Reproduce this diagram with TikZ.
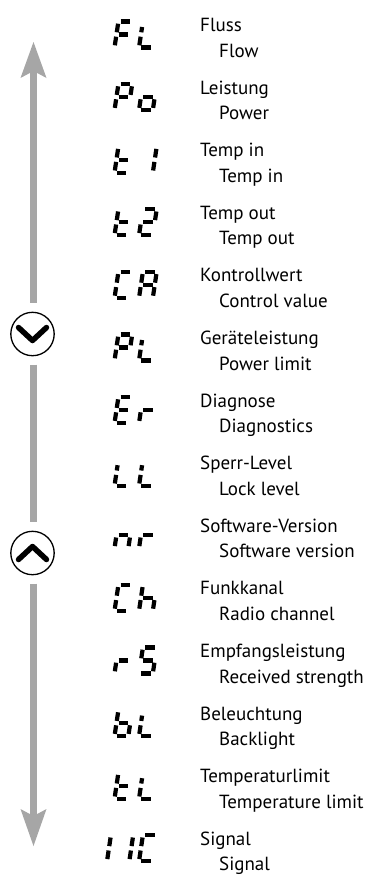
\documentclass[tikz,border=0pt]{standalone}
\usepackage{fontspec}
\setmainfont{PT Sans}
\definecolor{agray}{RGB}{166,166,166}
\tikzset{
  lbl/.style={anchor=base west, inner sep=0pt, font=\fontsize{19}{21}\selectfont},
  segline/.style={line width=4.2pt, line cap=butt, black},
  gline/.style={line width=7.5pt, agray},
  ahead/.style={fill=agray, draw=none},
  btn/.style={circle, draw=black, line width=1.3pt, minimum size=43.4pt, inner sep=0pt},
  chev/.style={line width=5.5pt, line cap=round, line join=round, black},
}
\newcommand\sevseg[3]{%
  \pgfmathsetmacro\segy{47.5+(#2-1)*62.6}%
  \begin{scope}[shift={(#1,\segy)}, x={(1pt,0pt)}, y={(0.15pt,1pt)}]
    \coordinate (sga1) at (2.2,26);  \coordinate (sga2) at (11.6,26);
    \coordinate (sgb1) at (13.8,23.8); \coordinate (sgb2) at (13.8,15.2);
    \coordinate (sgc1) at (13.8,10.8); \coordinate (sgc2) at (13.8,2.2);
    \coordinate (sgd1) at (2.2,0);   \coordinate (sgd2) at (11.6,0);
    \coordinate (sge1) at (0,10.8);  \coordinate (sge2) at (0,2.2);
    \coordinate (sgf1) at (0,23.8);  \coordinate (sgf2) at (0,15.2);
    \coordinate (sgg1) at (2.2,13);  \coordinate (sgg2) at (11.6,13);
    \coordinate (sgk1) at (0,20.5);  \coordinate (sgk2) at (0,15.2);
    \foreach \s in {#3} {\draw[segline] (sg\s1) -- (sg\s2);}
  \end{scope}}
\begin{document}
\begin{tikzpicture}[x=1pt,y=-1pt]
\useasboundingbox (0,0) rectangle (369,876);
% labels
\foreach \i/\de/\en [evaluate=\i as \gy using 31.5+(\i-1)*62.6] in {
  1/Fluss/Flow, 2/Leistung/Power, 3/Temp in/Temp in, 4/Temp out/Temp out,
  5/Kontrollwert/Control value, 6/Geräteleistung/Power limit,
  7/Diagnose/Diagnostics, 8/Sperr-Level/Lock level,
  9/Software-Version/Software version, 10/Funkkanal/Radio channel,
  11/Empfangsleistung/Received strength, 12/Beleuchtung/Backlight,
  13/Temperaturlimit/Temperature limit, 14/Signal/Signal} {
  \node[lbl] (de\i) at (200,\gy) {\de};
  \node[lbl] (en\i) at (219,\gy+25.5) {\en};
}
% seven-segment codes
\def\cA{114.5}\def\cB{139.0}
\sevseg{\cA}{1}{a,f,g,e}      \sevseg{\cB}{1}{k,e,d}
\sevseg{\cA}{2}{a,b,f,g,e}    \sevseg{\cB}{2}{c,d,e,g}
\sevseg{\cA}{3}{f,e,d,g}      \sevseg{\cB}{3}{b,c}
\sevseg{\cA}{4}{f,e,d,g}      \sevseg{\cB}{4}{a,b,g,e,d}
\sevseg{\cA}{5}{a,f,e,d}      \sevseg{\cB}{5}{a,b,c,e,f,g}
\sevseg{\cA}{6}{a,b,f,g,e}    \sevseg{\cB}{6}{k,e,d}
\sevseg{\cA}{7}{a,f,g,e,d}    \sevseg{\cB}{7}{e,g}
\sevseg{\cA}{8}{k,e,d}        \sevseg{\cB}{8}{k,e,d}
\sevseg{\cA}{9}{c,e,g}        \sevseg{\cB}{9}{e,g}
\sevseg{\cA}{10}{a,f,e,d}     \sevseg{\cB}{10}{f,e,g,c}
\sevseg{\cA}{11}{e,g}         \sevseg{\cB}{11}{a,f,g,c,d}
\sevseg{\cA}{12}{f,e,d,c,g}   \sevseg{\cB}{12}{k,e,d}
\sevseg{\cA}{13}{f,e,d,g}     \sevseg{\cB}{13}{k,e,d}
\sevseg{93.2}{14}{b,c}        \sevseg{115.5}{14}{b,c}  \sevseg{\cB}{14}{a,f,e,d}
% buttons
\node[btn] (bdown) at (32.5,334) {};
\node[btn] (bup) at (32.5,553) {};
\draw[chev] ([xshift=-14pt,yshift=6.5pt]bdown.center) -- ([yshift=-6.5pt]bdown.center) -- ([xshift=14pt,yshift=6.5pt]bdown.center);
\draw[chev] ([xshift=-14pt,yshift=-6.5pt]bup.center) -- ([yshift=6.5pt]bup.center) -- ([xshift=14pt,yshift=-6.5pt]bup.center);
% arrow heads
\coordinate (ttip) at (33.5,42);
\coordinate (tnotch) at (33.5,71);
\coordinate (btip) at (33.5,846);
\coordinate (bnotch) at (33.5,816);
\fill[ahead] (ttip) -- (46.5,78) -- (tnotch) -- (20.5,78) -- cycle;
\fill[ahead] (btip) -- (46.5,809) -- (bnotch) -- (20.5,809) -- cycle;
% shaft
\draw[gline] ([yshift=1pt]tnotch) -- ([xshift=1pt,yshift=8.3pt]bdown.north);
\draw[gline] ([xshift=1pt,yshift=-8.3pt]bdown.south) -- ([xshift=1pt,yshift=8.3pt]bup.north);
\draw[gline] ([xshift=1pt,yshift=-8.3pt]bup.south) -- ([yshift=-1pt]bnotch);
\end{tikzpicture}
\end{document}
